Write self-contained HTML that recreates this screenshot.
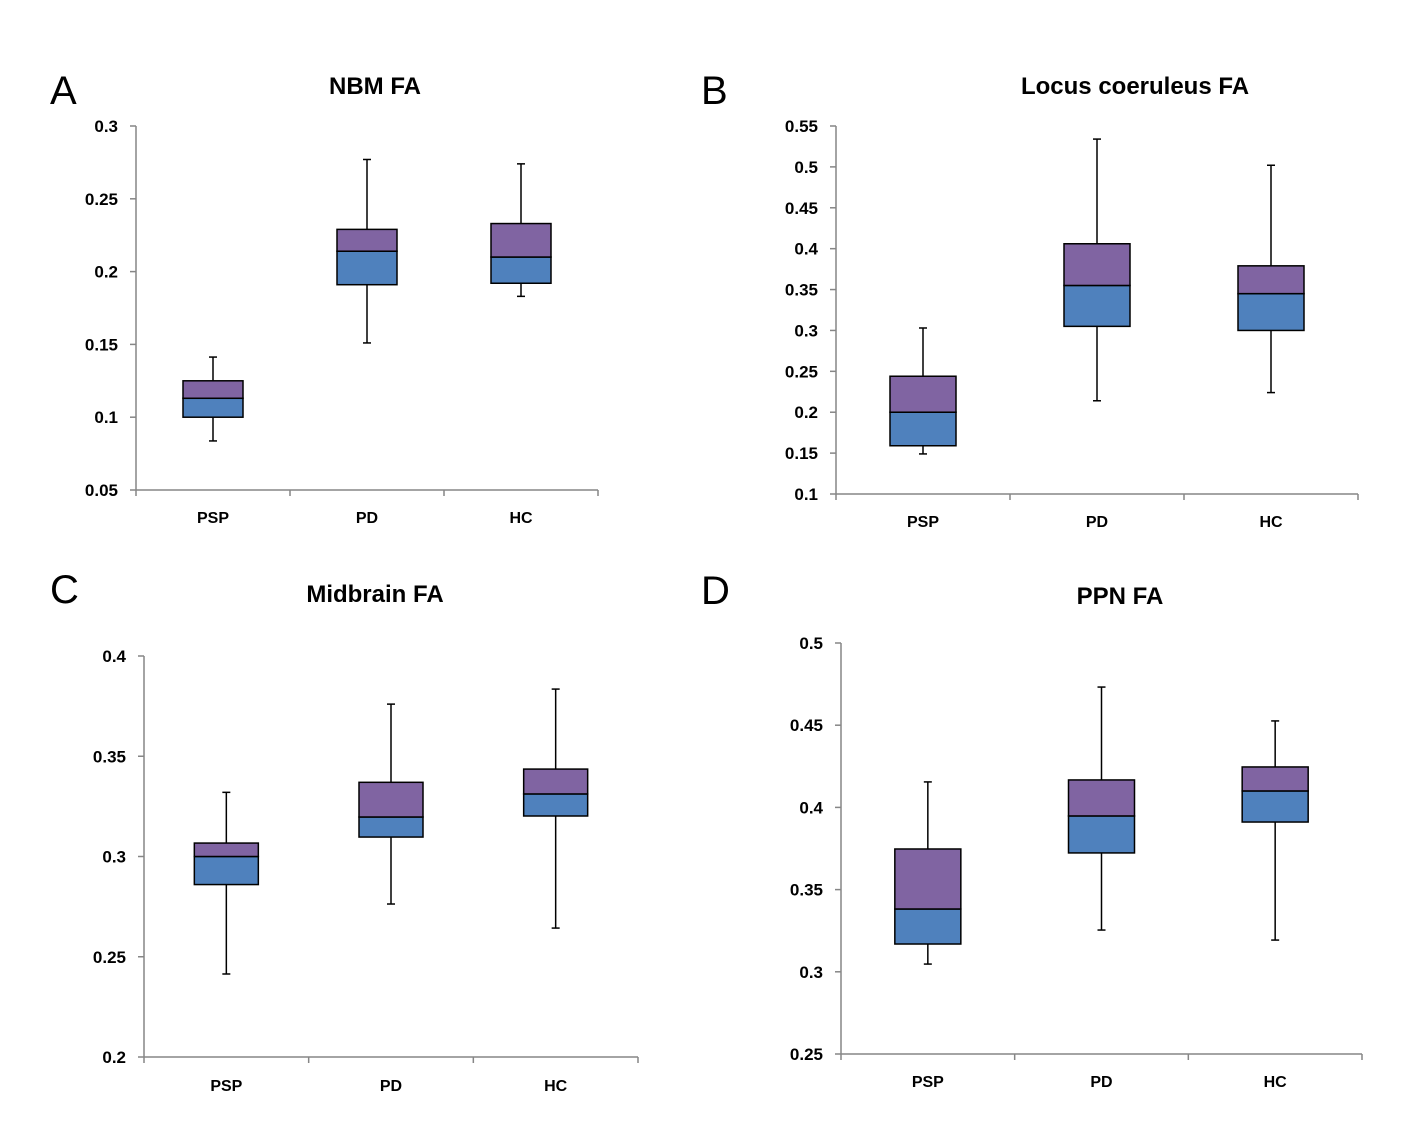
<!DOCTYPE html>
<html><head><meta charset="utf-8"><style>
html,body{margin:0;padding:0;background:#fff;}
svg{display:block;font-family:"Liberation Sans",Arial,sans-serif;}
</style></head><body>
<svg id="c" width="1422" height="1129" viewBox="0 0 1422 1129"></svg>
<script>
const categories = ["PSP","PD","HC"];
// [min, q1, median, q3, max]
const nbmData = [[0.0837,0.100,0.113,0.125,0.1413],[0.151,0.191,0.214,0.229,0.277],[0.183,0.192,0.210,0.233,0.274]];
const lcData = [[0.149,0.159,0.200,0.244,0.303],[0.214,0.305,0.355,0.406,0.534],[0.224,0.300,0.345,0.379,0.502]];
const midData = [[0.2414,0.286,0.300,0.3067,0.332],[0.2763,0.3097,0.3197,0.337,0.376],[0.2643,0.3202,0.3312,0.3436,0.3835]];
const ppnData = [[0.3047,0.3169,0.3382,0.3747,0.4155],[0.3254,0.3723,0.3948,0.4167,0.4732],[0.3193,0.3911,0.4100,0.4246,0.4526]];
const nbmTicks = ["0.05","0.1","0.15","0.2","0.25","0.3"];
const lcTicks = ["0.1","0.15","0.2","0.25","0.3","0.35","0.4","0.45","0.5","0.55"];
const midTicks = ["0.2","0.25","0.3","0.35","0.4"];
const ppnTicks = ["0.25","0.3","0.35","0.4","0.45","0.5"];

const NS="http://www.w3.org/2000/svg";
const svg=document.getElementById('c');
function mk(tag,attrs,parent){const e=document.createElementNS(NS,tag);for(const k in attrs)e.setAttribute(k,attrs[k]);(parent||svg).appendChild(e);return e;}

const panels=[
 {id:"nbm",letter:"A",lx:50,ly:104,title:"NBM FA",tx:375,ty:94,data:nbmData,ticks:nbmTicks,ax:136,ax2:598,yTop:126,yBot:490,bw:60,catY:523},
 {id:"lc",letter:"B",lx:701,ly:104,title:"Locus coeruleus FA",tx:1135,ty:94,data:lcData,ticks:lcTicks,ax:836,ax2:1358,yTop:126,yBot:494,bw:66,catY:527},
 {id:"mid",letter:"C",lx:50,ly:603,title:"Midbrain FA",tx:375,ty:602,data:midData,ticks:midTicks,ax:144,ax2:638,yTop:656,yBot:1057,bw:64,catY:1091},
 {id:"ppn",letter:"D",lx:701,ly:604,title:"PPN FA",tx:1120,ty:604,data:ppnData,ticks:ppnTicks,ax:841,ax2:1362,yTop:643,yBot:1054,bw:66,catY:1087}
];

panels.forEach(p=>{
 const g=mk('g',{});
 
 
 const L=mk('text',{x:p.lx,y:p.ly,'font-size':40,fill:'#000'},g);L.textContent=p.letter;
 
 
 const T=mk('text',{x:p.tx,y:p.ty,'font-size':24,'font-weight':'bold','text-anchor':'middle',fill:'#000'},g);T.textContent=p.title;
 
 
 const vmin=parseFloat(p.ticks[0]),vmax=parseFloat(p.ticks[p.ticks.length-1]);
 const y=v=>p.yBot-(v-vmin)/(vmax-vmin)*(p.yBot-p.yTop);
 const step=(p.ax2-p.ax)/categories.length;
 const x=i=>p.ax+step*(i+0.5);
 const ya=mk('line',{x1:p.ax,y1:p.yTop,x2:p.ax,y2:p.yBot,stroke:'#868686','stroke-width':1.5},g);
 
 
 const xa=mk('line',{x1:p.ax,y1:p.yBot,x2:p.ax2,y2:p.yBot,stroke:'#868686','stroke-width':1.5},g);
 
 
 p.ticks.forEach(t=>{
  const v=parseFloat(t),yy=y(v);
  mk('line',{x1:p.ax-6,y1:yy,x2:p.ax,y2:yy,stroke:'#868686','stroke-width':1.5},g);
  const tl=mk('text',{x:p.ax-18,y:yy+6,'font-size':17,'font-weight':'bold','text-anchor':'end',fill:'#000'},g);
  tl.textContent=t;
  
  
 });
 for(let i=0;i<=categories.length;i++){
  const xx=p.ax+step*i;
  mk('line',{x1:xx,y1:p.yBot,x2:xx,y2:p.yBot+6,stroke:'#868686','stroke-width':1.5},g);
 }
 categories.forEach((c,i)=>{
  const cl=mk('text',{x:x(i),y:p.catY,'font-size':16,'font-weight':'bold','text-anchor':'middle',fill:'#000'},g);
  cl.textContent=c;
  
  
  const d=p.data[i],cx=x(i),hw=p.bw/2;
  const bg=mk('g',{},g);
  
  
  mk('line',{x1:cx,y1:y(d[4]),x2:cx,y2:y(d[3]),stroke:'#000','stroke-width':1.5},bg);
  mk('line',{x1:cx,y1:y(d[1]),x2:cx,y2:y(d[0]),stroke:'#000','stroke-width':1.5},bg);
  mk('line',{x1:cx-4,y1:y(d[4]),x2:cx+4,y2:y(d[4]),stroke:'#000','stroke-width':1.5},bg);
  mk('line',{x1:cx-4,y1:y(d[0]),x2:cx+4,y2:y(d[0]),stroke:'#000','stroke-width':1.5},bg);
  mk('rect',{x:cx-hw,y:y(d[2]),width:p.bw,height:y(d[1])-y(d[2]),fill:'#4F81BD',stroke:'#000','stroke-width':1.5},bg);
  mk('rect',{x:cx-hw,y:y(d[3]),width:p.bw,height:y(d[2])-y(d[3]),fill:'#8064A2',stroke:'#000','stroke-width':1.5},bg);
 });
});
</script>
</body></html>
